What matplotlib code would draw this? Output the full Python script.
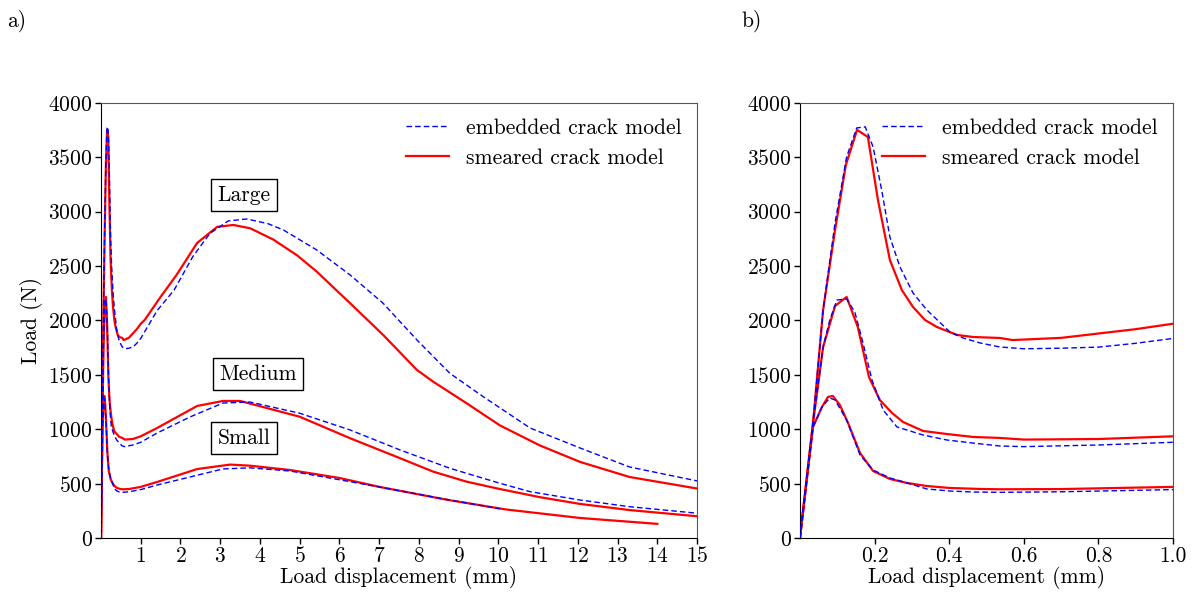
import matplotlib
matplotlib.use('Agg')
import matplotlib.pyplot as plt

plt.rcParams['font.family'] = ['cmr10', 'DejaVu Serif']
plt.rcParams['mathtext.fontset'] = 'cm'
plt.rcParams['axes.formatter.use_mathtext'] = True
plt.rcParams['font.size'] = 15.5

# large specimen
large_emb_x = [0, 0.035, 0.062, 0.094, 0.125, 0.152, 0.175, 0.196, 0.219, 0.241, 0.268, 0.303, 0.34,
               0.402, 0.437, 0.483, 0.536, 0.6, 0.7, 0.8, 0.9, 1.0, 1.41, 1.84, 2.31, 2.74, 3.2, 3.67,
               4.2, 4.59, 5.43, 6.27, 7.1, 7.95, 8.78, 9.62, 10.8, 12.06, 13.3, 15.0]
large_emb_y = [0, 1060, 2097, 2897, 3503, 3770, 3780, 3595, 3200, 2768, 2492, 2253, 2097,
               1894, 1839, 1793, 1756, 1740, 1745, 1755, 1790, 1835, 2090, 2280, 2587, 2800, 2915, 2933,
               2890, 2832, 2648, 2418, 2158, 1821, 1514, 1299, 1011, 827, 653, 525]
large_sme_x = [0, 0.035, 0.062, 0.094, 0.123, 0.153, 0.182, 0.209, 0.241, 0.273, 0.303, 0.335, 0.367,
               0.421, 0.464, 0.536, 0.57, 0.7, 0.8, 0.9, 1.0, 1.1, 1.48, 1.9, 2.42, 2.92, 3.33, 3.75,
               4.33, 4.93, 5.43, 6.27, 7.1, 7.95, 8.36, 9.2, 10.04, 11.05, 12.06, 13.3, 15.0]
large_sme_y = [0, 1060, 2097, 2832, 3430, 3752, 3687, 3108, 2556, 2280, 2124, 2005, 1940,
               1867, 1848, 1839, 1820, 1840, 1880, 1920, 1970, 2005, 2207, 2418, 2713, 2860, 2878, 2848,
               2745, 2600, 2449, 2158, 1867, 1545, 1437, 1239, 1035, 850, 699, 561, 455]

# medium specimen
med_emb_x = [0, 0.035, 0.062, 0.080, 0.099, 0.125, 0.147, 0.169, 0.193, 0.223, 0.26, 0.33, 0.394,
             0.464, 0.536, 0.6, 0.8, 1.0, 1.41, 2.24, 3.07, 3.75, 5.0, 6.27, 7.53, 8.78, 10.04, 10.8,
             12.06, 13.3, 15.0]
med_emb_y = [0, 1060, 1756, 2005, 2188, 2198, 2078, 1793, 1453, 1177, 1021, 947, 901,
             873, 846, 840, 855, 880, 965, 1113, 1241, 1250, 1147, 993, 809, 641, 503, 426,
             349, 288, 228]
med_sme_x = [0, 0.035, 0.062, 0.094, 0.125, 0.155, 0.185, 0.214, 0.247, 0.276, 0.33, 0.394, 0.464,
             0.536, 0.6, 0.8, 1.0, 1.41, 2.42, 3.07, 3.5, 5.0, 6.27, 7.53, 8.36, 9.2, 10.04, 11.05,
             12.06, 13.3, 15.0]
med_sme_y = [0, 1057, 1756, 2133, 2216, 1940, 1480, 1269, 1149, 1067, 984, 956, 929,
             920, 905, 910, 935, 1011, 1214, 1260, 1260, 1115, 917, 733, 610, 518, 450, 375,
             313, 257, 200]

# small specimen
small_emb_x = [0, 0.035, 0.059, 0.080, 0.094, 0.125, 0.161, 0.196, 0.241, 0.287, 0.34, 0.402, 0.464,
               0.536, 0.7, 1.0, 1.41, 2.24, 3.07, 3.75, 4.76, 6.27, 7.27, 8.78, 10.04]
small_emb_y = [0, 1021, 1205, 1287, 1269, 1085, 763, 625, 552, 506, 451, 432, 423,
               420, 425, 445, 487, 561, 635, 645, 616, 518, 451, 349, 268]
small_sme_x = [0, 0.035, 0.059, 0.075, 0.088, 0.107, 0.129, 0.161, 0.196, 0.241, 0.287, 0.34, 0.402,
               0.483, 0.536, 0.7, 1.0, 1.41, 2.42, 3.25, 3.75, 4.76, 6.0, 7.02, 8.7, 10.2, 12.06, 14.0]
small_sme_y = [0, 1021, 1205, 1297, 1306, 1223, 1057, 782, 616, 543, 506, 478, 460,
               451, 448, 450, 470, 515, 634, 675, 665, 625, 552, 469, 352, 262, 184, 130]

embedded = [(large_emb_x, large_emb_y), (med_emb_x, med_emb_y), (small_emb_x, small_emb_y)]
smeared = [(large_sme_x, large_sme_y), (med_sme_x, med_sme_y), (small_sme_x, small_sme_y)]

fig = plt.figure(figsize=(11.94, 5.96), dpi=100)
ax1 = fig.add_axes([0.0846, 0.0973, 0.4992, 0.730])
ax2 = fig.add_axes([0.670, 0.0973, 0.3124, 0.730])


def draw(ax):
    for i, (x, y) in enumerate(embedded):
        ax.plot(x, y, '--', color='#0000ff', lw=1.0, dashes=(4, 2.2),
                label='embedded crack model' if i == 0 else None, zorder=3)
    for i, (x, y) in enumerate(smeared):
        ax.plot(x, y, '-', color='#ff0000', lw=1.6,
                label='smeared crack model' if i == 0 else None, zorder=2)
    ax.set_ylim(0, 4000)
    ax.set_yticks(range(0, 4001, 500))
    ax.set_xlabel('Load displacement (mm)', labelpad=0)
    ax.tick_params(direction='out', length=4, width=1, top=False, right=False, pad=2)
    for s in ['top', 'right']:
        ax.spines[s].set_color('#555555')
    ax.legend(loc='upper right', frameon=False, borderaxespad=0.3, handlelength=2.0)


draw(ax1)
ax1.set_xlim(0, 15)
ax1.set_xticks(range(1, 16))
ax1.set_ylabel('Load (N)', labelpad=4)
box = dict(boxstyle='square,pad=0.3', fc='white', ec='black', lw=1)
ax1.text(3.6, 3154, 'Large', ha='center', va='center', bbox=box)
ax1.text(3.95, 1508, 'Medium', ha='center', va='center', bbox=box)
ax1.text(3.6, 920, 'Small', ha='center', va='center', bbox=box)

draw(ax2)
ax2.set_xlim(0, 1.0)
ax2.set_xticks([0.2, 0.4, 0.6, 0.8, 1.0])
ax2.set_xticklabels(['0.2', '0.4', '0.6', '0.8', '1.0'])

fig.text(0.006, 0.965, 'a)', va='center', ha='left')
fig.text(0.621, 0.965, 'b)', va='center', ha='left')

fig.savefig('out.png', dpi=100)
